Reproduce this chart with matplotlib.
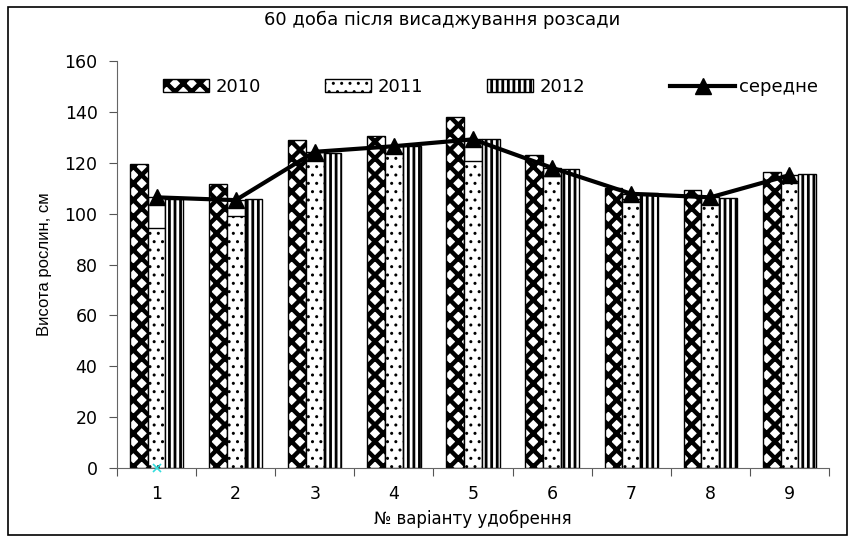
import matplotlib.pyplot as plt
import numpy as np
from matplotlib.patches import Rectangle

plt.rcParams['font.family'] = ['DejaVu Sans']

# висота рослин по варіантах удобрення, см
variants = [1, 2, 3, 4, 5, 6, 7, 8, 9]
h2010 = [119.4, 111.5, 128.8, 130.5, 137.9, 123.0, 110.0, 109.2, 116.5]
h2011 = [94.3, 99.1, 120.5, 123.9, 120.7, 114.8, 105.6, 103.7, 112.8]
h2012 = [105.9, 105.9, 123.9, 126.5, 129.4, 117.7, 108.2, 106.3, 115.7]
mean = [106.4, 105.3, 124.3, 126.5, 129.2, 118.0, 107.8, 106.4, 115.1]

fig = plt.figure(figsize=(8.51, 5.41), dpi=100)
ax = fig.add_axes([117 / 851, 1 - 468 / 541, 712 / 851, 407 / 541])

x = np.array(variants)
w = 0.225
hatch_lw = [3.2, 1.0, 2.0]

with plt.rc_context({'hatch.linewidth': hatch_lw[0]}):
    b10 = ax.bar(x - w, h2010, w, color='white', edgecolor='black', hatch='xx', lw=1, zorder=2)

# білий стовпчик середнього під 2011
ax.bar(x, mean, w, color='white', edgecolor='black', lw=1, zorder=1)
with plt.rc_context({'hatch.linewidth': hatch_lw[1]}):
    b11 = ax.bar(x, h2011, w, color='white', edgecolor='black', hatch='..', lw=1, zorder=2)
with plt.rc_context({'hatch.linewidth': hatch_lw[2]}):
    b12 = ax.bar(x + w, h2012, w, color='white', edgecolor='black', hatch='|||', lw=1, zorder=2)

ln, = ax.plot(x, mean, color='black', lw=3, marker='^', ms=12, zorder=5)
ax.plot([1], [0], marker='x', color='#33dddd', ms=6, mew=1.2, ls='none', zorder=6, clip_on=False)

ax.set_xlim(0.5, 9.5)
ax.set_ylim(0, 160)
ax.set_yticks(range(0, 161, 20))
ax.set_xticks(np.arange(0.5, 10, 1))
ax.set_xticklabels([])
ax.set_xticks(x, minor=True)
ax.set_xticklabels([str(v) for v in variants], minor=True)
ax.tick_params(axis='x', which='minor', length=0, pad=12, labelsize=12.5)
ax.tick_params(axis='x', which='major', length=6, direction='out', color='#555555')
ax.tick_params(axis='y', length=6, direction='out', color='#555555', labelsize=12.5, pad=8)
for s in ['top', 'right']:
    ax.spines[s].set_visible(False)
for s in ['left', 'bottom']:
    ax.spines[s].set_color('#666666')

ax.set_xlabel('№ варіанту удобрення', fontsize=12, labelpad=5)
ax.set_ylabel('Висота рослин, см', fontsize=12, family=['Liberation Sans Narrow', 'Liberation Sans'], labelpad=9)
fig.text(442 / 851, 1 - 20 / 541, '60 доба після висаджування розсади', ha='center', va='center', fontsize=13)

leg = ax.legend([b10, b11, b12], ['2010', '2011', '2012'], ncol=3, frameon=False,
                loc='center left', bbox_to_anchor=((163 - 117) / 712, 0.936), fontsize=13,
                handlelength=2.55, handletextpad=0.35, columnspacing=3.55,
                borderpad=0, borderaxespad=0)
for h, lw in zip(leg.legend_handles, hatch_lw):
    if hasattr(h, 'set_hatch_linewidth'):
        h.set_hatch_linewidth(lw)
ax.add_artist(leg)
ax.legend([ln], ['середне'], frameon=False, loc='center left',
          bbox_to_anchor=((670 - 117) / 712, 0.936), fontsize=13,
          handlelength=3.6, handletextpad=0.2, borderpad=0, borderaxespad=0)

fig.patches.append(Rectangle((8 / 851, 1 - 535 / 541), 839 / 851, 528 / 541, transform=fig.transFigure,
                             fill=False, edgecolor='black', lw=1.2))

fig.savefig('out.png', dpi=100)
